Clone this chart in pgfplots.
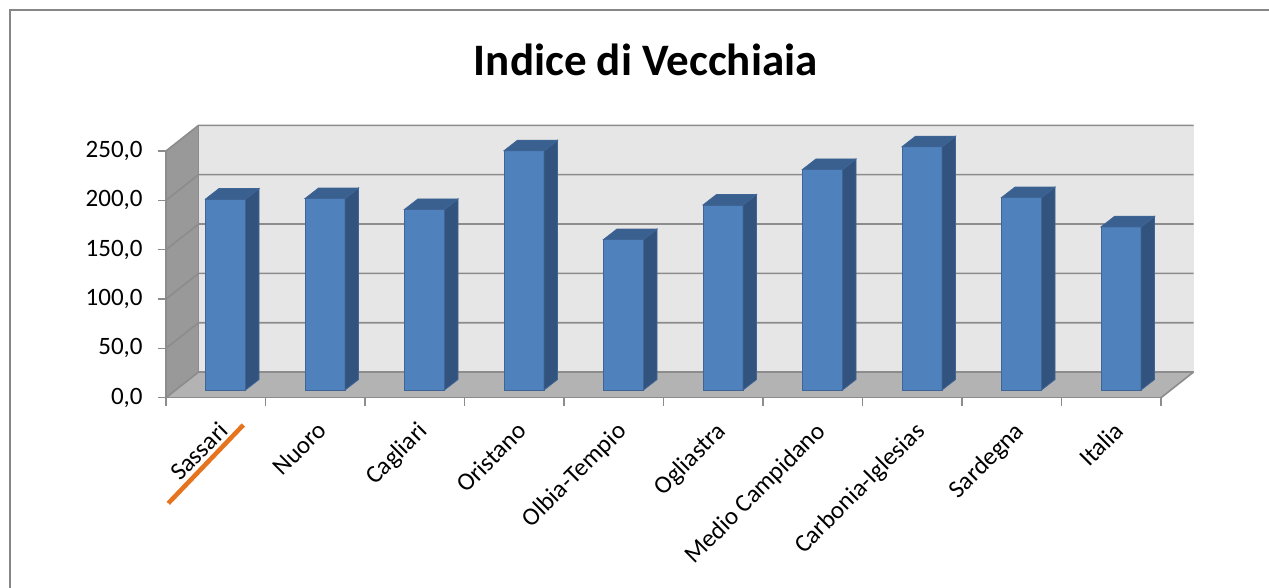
\documentclass[border=0pt]{standalone}
\usepackage{pgfplots}
\pgfplotsset{compat=1.18}
\usepackage{pgfplotstable}
\usepackage{fontspec}
\setmainfont{Carlito}
\definecolor{barfront}{RGB}{79,129,189}
\definecolor{barside}{RGB}{50,83,126}
\definecolor{bartop}{RGB}{58,96,143}
\definecolor{barline}{RGB}{62,101,150}
\definecolor{backwall}{RGB}{230,230,230}
\definecolor{sidewall}{RGB}{153,153,153}
\definecolor{floorc}{RGB}{179,179,179}
\definecolor{gridc}{RGB}{140,140,140}
\definecolor{framec}{RGB}{134,134,134}
\definecolor{orangec}{RGB}{230,115,30}
\pgfplotstableread{
x v
0.5 193.5
1.5 194.0
2.5 183.0
3.5 242.5
4.5 152.5
5.5 187.5
6.5 223.5
7.5 246.5
8.5 195.0
9.5 165.3
}\datatable
\pgfdeclareplotmark{nothing}{}
\begin{document}
\begin{tikzpicture}
\begin{scope}[x=0.75pt,y=0.75pt]
\path[use as bounding box, fill=white] (0,0) rectangle (1269,588);
\draw[framec, line width=1.5pt] (10,0) -- (10,578) -- (1269,578);
\node[font=\fontsize{33.75}{40}\selectfont\bfseries, anchor=base] at (645.7,512.5) {Indice di Vecchiaia};
\end{scope}
\begin{axis}[
  at={(124.5pt,142.725pt)}, anchor=south west,
  x=74.625pt, y=0.74010pt,
  xmin=0, xmax=10, ymin=0, ymax=250,
  clip=false,
  axis on top,
  axis x line*=bottom, axis y line*=left,
  axis line style={draw=gridc, line width=1pt, -},
  tick style={draw=gridc, line width=1pt},
  tick align=outside,
  major tick length=6pt,
  xtick={0,1,...,10},
  x tick label as interval,
  xticklabels={Sassari,Nuoro,Cagliari,Oristano,Olbia-Tempio,Ogliastra,Medio Campidano,Carbonia-Iglesias,Sardegna,Italia},
  xticklabel style={rotate=45, anchor=north east, xshift=-3.5pt, yshift=-5pt, font=\fontsize{18.75}{22}\selectfont},
  ytick={0,50,...,250},
  yticklabel style={xshift=-8pt, font=\fontsize{18.75}{22}\selectfont},
  /pgf/number format/.cd, fixed, fixed zerofill, precision=1, use comma, assume math mode=true,
]
% walls and floor
\fill[backwall] (axis cs:0.327,26) rectangle (axis cs:10.327,276);
\fill[sidewall] (axis cs:0,0) -- (axis cs:0,250) -- (axis cs:0.327,276) -- (axis cs:0.327,26) -- cycle;
\fill[floorc] (axis cs:0,0) -- (axis cs:10,0) -- (axis cs:10.327,26) -- (axis cs:0.327,26) -- cycle;
\draw[gridc, line width=1.2pt] (axis cs:0,0) -- (axis cs:0.327,26) -- (axis cs:10.327,26);
\draw[gridc, line width=1.2pt] (axis cs:0,50) -- (axis cs:0.327,76) -- (axis cs:10.327,76);
\draw[gridc, line width=1.2pt] (axis cs:0,100) -- (axis cs:0.327,126) -- (axis cs:10.327,126);
\draw[gridc, line width=1.2pt] (axis cs:0,150) -- (axis cs:0.327,176) -- (axis cs:10.327,176);
\draw[gridc, line width=1.2pt] (axis cs:0,200) -- (axis cs:0.327,226) -- (axis cs:10.327,226);
\draw[gridc, line width=1.2pt] (axis cs:0,250) -- (axis cs:0.327,276) -- (axis cs:10.327,276);
\draw[gridc, line width=1.2pt] (axis cs:10,0) -- (axis cs:10.327,26);
\draw[gridc, line width=0.8pt] (axis cs:0.327,26) -- (axis cs:0.327,276);
% 3D bars drawn at each data point (front face set back to 30% depth)
\addplot[
  only marks, mark=nothing, scatter,
  visualization depends on={\thisrow{v}\as\val},
  scatter/@pre marker code/.code={%
    \pgfmathsetmacro\hb{7.7-\val*0.9868}%
    \begin{scope}[x=0.75pt,y=0.75pt]
      \filldraw[fill=barfront,draw=barline,line width=0.6pt] (-10.25,\hb) rectangle (29.75,7.7);
      \filldraw[fill=barside,draw=barline,line width=0.6pt] (29.75,\hb) -- (43.25,\hb+10.5) -- (43.25,18.2) -- (29.75,7.7) -- cycle;
      \filldraw[fill=bartop,draw=barline,line width=0.6pt] (-10.25,7.7) -- (29.75,7.7) -- (43.25,18.2) -- (3.25,18.2) -- cycle;
    \end{scope}%
  },
  scatter/@post marker code/.code={},
] table[x=x,y=v] {\datatable};
\end{axis}
\begin{scope}[x=0.75pt,y=0.75pt]
\draw[orangec, line width=3.4pt] (168.3,84.7) -- (243.3,163);
\end{scope}
\end{tikzpicture}
\end{document}
